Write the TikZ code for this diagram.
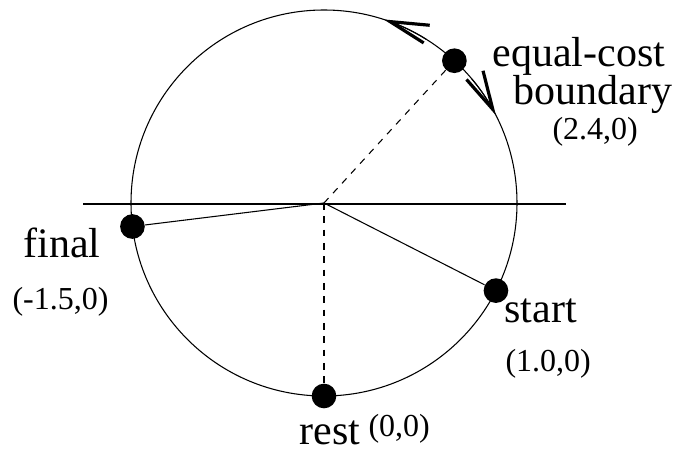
\documentclass[tikz,border=0pt]{standalone}
\usepackage{fontspec}
\setmainfont{Liberation Serif}
\usetikzlibrary{arrows.meta,bending,calc,positioning}
\tikzset{
  dot/.style={circle,fill,inner sep=0pt,minimum size=18.5pt},
  lbl/.style={inner sep=0pt,anchor=base west,font=\fontsize{31.5}{36}\selectfont},
  crd/.style={inner sep=0pt,anchor=base west,font=\fontsize{24}{28}\selectfont},
  barb/.style={-{Straight Barb[length=29pt,width=14pt,line width=2.4pt,#1]}},
  barb/.default={},
  dsh/.style={dash pattern=on 5pt off 5pt}
}
\begin{document}
\begin{tikzpicture}[x=0.75pt,y=0.75pt,line width=0.8pt]
\useasboundingbox (0,0) rectangle (679,453);
\coordinate (O) at (324,250); \def\rad{193}
\draw (O) circle (\rad);
\coordinate (hl) at (83,249); \coordinate (hr) at (566,249);
\draw[line width=1.5pt] (hl)--(hr);
\node[dot] (final) at ($(O)+(187:\rad)$) {};
\node[dot] (start) at ($(O)+(-27:\rad)$) {};
\node[dot] (rest) at ($(O)+(270:\rad)$) {};
\node[dot] (eqc) at ($(O)+(47.5:\rad)$) {};
\draw (O)--(final); \draw (O)--(start);
\draw[dsh] (O)--(rest);
\draw[dsh] (O)--(eqc);
% arrows along the boundary
\draw[barb=flex] ($(O)+(58:\rad)$) arc (58:72:\rad);
\draw[barb] ($(O)+(40:\rad)$) arc (40:27:\rad);
% labels
\node[lbl] (eqlbl) at (492,386) {equal-cost};
\node[lbl] (bdlbl) at (513,348) {boundary};
\node[crd] (eqcrd) at (552,313) {(2.4,0)};
\node[lbl] (fnlbl) at (23,195) {final};
\node[crd] (fncrd) at (12,143) {(-1.5,0)};
\node[lbl] (stlbl) at (504,130) {start};
\node[crd] (stcrd) at (505,81) {(1.0,0)};
\node[lbl] (rslbl) at (299,8) {rest};
\node[crd] (rscrd) at (368,16) {(0,0)};
\end{tikzpicture}
\end{document}
